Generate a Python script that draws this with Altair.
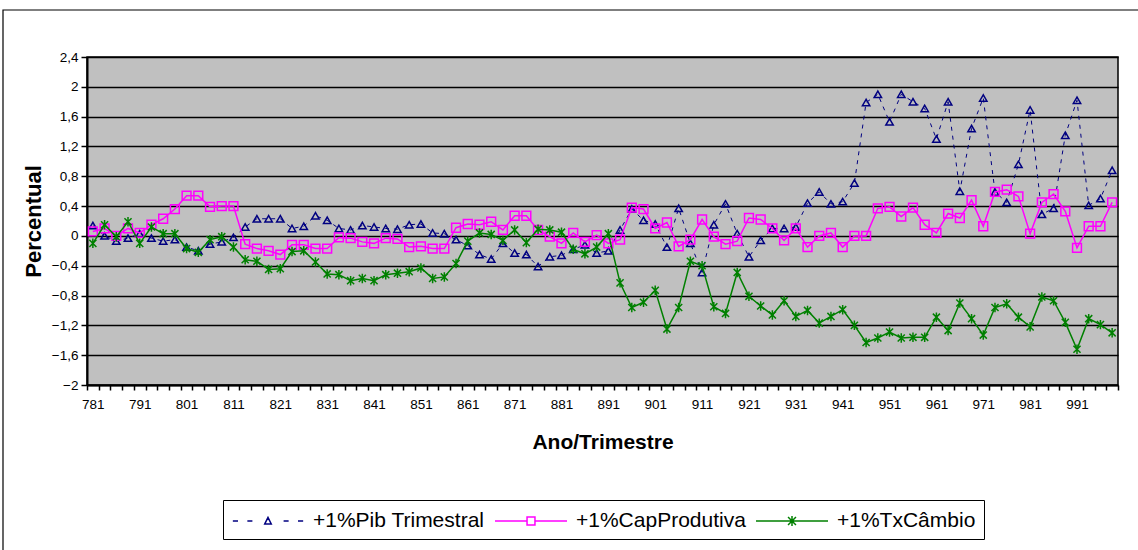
import altair as alt
import pandas as pd

quarters = [
    "781", "782", "783", "784", "791", "792", "793", "794",
    "801", "802", "803", "804", "811", "812", "813", "814",
    "821", "822", "823", "824", "831", "832", "833", "834",
    "841", "842", "843", "844", "851", "852", "853", "854",
    "861", "862", "863", "864", "871", "872", "873", "874",
    "881", "882", "883", "884", "891", "892", "893", "894",
    "901", "902", "903", "904", "911", "912", "913", "914",
    "921", "922", "923", "924", "931", "932", "933", "934",
    "941", "942", "943", "944", "951", "952", "953", "954",
    "961", "962", "963", "964", "971", "972", "973", "974",
    "981", "982", "983", "984", "991", "992", "993", "994",
]

pib = [
    0.14, 0.0, -0.07, -0.03, 0.03, -0.03, -0.07, -0.05,
    -0.15, -0.2, -0.11, -0.08, -0.02, 0.12, 0.23, 0.23,
    0.23, 0.1, 0.13, 0.27, 0.21, 0.1, 0.08, 0.14,
    0.12, 0.1, 0.09, 0.15, 0.16, 0.04, 0.03, -0.05,
    -0.13, -0.25, -0.31, -0.1, -0.23, -0.25, -0.41, -0.28,
    -0.26, -0.18, -0.12, -0.23, -0.2, 0.08, 0.36, 0.21,
    0.16, -0.15, 0.37, -0.1, -0.49, 0.15, 0.43, 0.03,
    -0.28, -0.06, 0.1, 0.1, 0.12, 0.44, 0.59, 0.43,
    0.46, 0.71, 1.79, 1.9, 1.53, 1.9, 1.8, 1.71,
    1.3, 1.8, 0.6, 1.44, 1.85, 0.59, 0.45, 0.96,
    1.69, 0.29, 0.37, 1.35, 1.82, 0.41, 0.5, 0.88,
]

cap = [
    0.06, 0.1, 0.0, 0.1, 0.04, 0.15, 0.23, 0.36,
    0.54, 0.54, 0.39, 0.4, 0.4, -0.11, -0.17, -0.2,
    -0.25, -0.12, -0.12, -0.17, -0.17, -0.02, -0.03, -0.08,
    -0.1, -0.03, -0.04, -0.15, -0.14, -0.17, -0.17, 0.11,
    0.16, 0.15, 0.19, 0.08, 0.27, 0.27, 0.08, -0.01,
    -0.1, 0.04, -0.08, 0.01, -0.1, -0.05, 0.38, 0.36,
    0.1, 0.18, -0.14, -0.05, 0.22, -0.01, -0.11, -0.07,
    0.24, 0.22, 0.1, -0.06, 0.1, -0.15, 0.0, 0.04,
    -0.15, 0.0, 0.0, 0.37, 0.39, 0.26, 0.38, 0.15,
    0.04, 0.3, 0.24, 0.48, 0.13, 0.59, 0.62, 0.53,
    0.03, 0.45, 0.56, 0.33, -0.16, 0.13, 0.13, 0.45,
]

cambio = [
    -0.1, 0.15, -0.01, 0.19, -0.1, 0.12, 0.03, 0.03,
    -0.17, -0.22, -0.05, -0.01, -0.15, -0.32, -0.34, -0.45,
    -0.44, -0.21, -0.2, -0.35, -0.51, -0.52, -0.6, -0.57,
    -0.6, -0.52, -0.5, -0.48, -0.43, -0.57, -0.55, -0.37,
    -0.07, 0.04, 0.02, -0.06, 0.08, -0.09, 0.09, 0.08,
    0.05, -0.18, -0.24, -0.15, 0.03, -0.63, -0.96, -0.89,
    -0.73, -1.25, -0.96, -0.34, -0.4, -0.95, -1.04, -0.49,
    -0.81, -0.94, -1.06, -0.87, -1.08, -1.0, -1.17, -1.08,
    -0.99, -1.2, -1.43, -1.37, -1.29, -1.37, -1.36, -1.36,
    -1.09, -1.27, -0.9, -1.11, -1.33, -0.96, -0.91, -1.09,
    -1.22, -0.82, -0.87, -1.16, -1.52, -1.11, -1.19, -1.3,
]

series_names = ["+1%Pib Trimestral", "+1%CapProdutiva", "+1%TxCâmbio"]
colors = ["#000080", "#FF00FF", "#008000"]
y_ticks = [-2, -1.6, -1.2, -0.8, -0.4, 0, 0.4, 0.8, 1.2, 1.6, 2, 2.4]

STAR = "M0,-1V1M-0.75,-0.75L0.75,0.75M-0.75,0.75L0.75,-0.75"
# legend keys: a line sample with the marker in its middle (line spans -1..5, marker at 2)
legend_paths = [
    "M-0.93,0H-0.5M0.28,0H0.7M3.3,0H3.72M4.5,0H4.93M1.73,0.24L2,-0.3L2.27,0.24Z",
    "M-1,0H1.67M2.33,0H5M1.67,-0.33H2.33V0.33H1.67Z",
    "M-1,0H5M2,-0.42V0.42M1.67,-0.33L2.33,0.33M1.67,0.33L2.33,-0.33",
]

rows = []
for name, vals in zip(series_names, [pib, cap, cambio]):
    for q, v in zip(quarters, vals):
        rows.append({"quarter": q, "value": v, "series": name})
df = pd.DataFrame(rows)

FONT = "Liberation Sans"

x_enc = alt.X(
    "quarter:O",
    sort=quarters,
    scale=alt.Scale(type="band", paddingInner=0, paddingOuter=0),
    axis=alt.Axis(
        title="Ano/Trimestre",
        tickBand="extent",
        labelExpr="substring(datum.label, 2, 3) == '1' ? datum.label : ''",
        labelAngle=0,
        labelOverlap=False,
        labelPadding=7,
        titlePadding=21,
        tickSize=5,
        grid=False,
    ),
)
y_enc = alt.Y(
    "value:Q",
    scale=alt.Scale(domain=[-2, 2.4], nice=False, zero=False),
    axis=alt.Axis(
        title="Percentual",
        values=y_ticks,
        labelExpr="replace(format(datum.value, '.1~f'), '.', ',')",
        tickSize=6,
        labelPadding=3,
        titlePadding=6,
        grid=True,
        gridColor="black",
        gridWidth=1.5,
        gridOpacity=1,
    ),
)

base = alt.Chart(df)


def series_layer(idx, shape, size, dash=None, line_width=1.5):
    sub = base.transform_filter(alt.datum.series == series_names[idx])
    line_kwargs = dict(color=colors[idx], strokeWidth=line_width)
    if dash:
        line_kwargs["strokeDash"] = dash
    line = sub.mark_line(**line_kwargs).encode(x=x_enc, y=y_enc)
    pts = sub.mark_point(
        shape=shape, filled=False, color=colors[idx], size=size, strokeWidth=1.5, opacity=1
    ).encode(x=x_enc, y=y_enc)
    return [line, pts]


layers = []
layers += series_layer(0, "triangle-up", 55, dash=[4, 5], line_width=1)
layers += series_layer(1, "square", 78)
layers += series_layer(2, STAR, 90)

leg = alt.Legend(
    title=None,
    orient="none",
    legendX=136,
    legendY=443,
    direction="horizontal",
    labelFont=FONT,
    labelFontSize=21,
    labelColor="black",
    labelLimit=400,
    labelOffset=56,
    columnPadding=7,
    symbolSize=576,
    symbolStrokeWidth=1.5,
    symbolOpacity=1,
    symbolFillColor="transparent",
    strokeColor="black",
    fillColor="white",
    padding=8,
)

legend_layer = base.mark_point(opacity=0, filled=False).encode(
    x=x_enc,
    y=y_enc,
    color=alt.Color("series:N", scale=alt.Scale(domain=series_names, range=colors), legend=leg),
    shape=alt.Shape("series:N", scale=alt.Scale(domain=series_names, range=legend_paths), legend=leg),
)

frame = alt.Chart(pd.DataFrame({"a": [0]})).mark_rect(
    filled=False, stroke="black", strokeWidth=1.2
).encode(
    x=alt.value(-84), x2=alt.value(1100), y=alt.value(-47), y2=alt.value(540)
)

chart = alt.layer(frame, *layers, legend_layer).properties(
    width=1031,
    height=328,
    autosize=alt.AutoSizeParams(type="none"),
    padding={"left": 87, "top": 57, "right": 20, "bottom": 165},
    background="white",
).configure_view(
    fill="#C0C0C0", stroke="black", strokeWidth=1.5
).configure_axis(
    labelFont=FONT,
    labelFontSize=13.5,
    labelColor="black",
    titleFont=FONT,
    titleFontSize=21,
    titleFontWeight="bold",
    titleColor="black",
    domainColor="black",
    domainWidth=2,
    tickColor="black",
    tickWidth=1.5,
).configure_axisY(
    titleFontSize=22,
)

chart.save("out.html", embed_options={"renderer": "svg", "actions": False})
